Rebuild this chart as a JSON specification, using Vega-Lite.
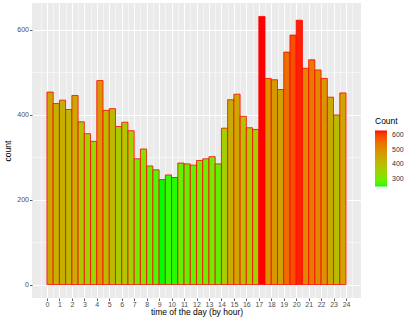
{
  "$schema": "https://vega.github.io/schema/vega-lite/v6.json",
  "width": 329,
  "height": 295,
  "autosize": {"type": "none"},
  "padding": {"left": 32, "top": 3, "right": 54, "bottom": 21},
  "background": "white",
  "config": {
    "view": {"fill": "#EBEBEB", "stroke": null},
    "font": "Liberation Sans"
  },
  "data": {
    "values": [
      {"start": 0, "end": 0.5, "count": 453},
      {"start": 0.5, "end": 1, "count": 426},
      {"start": 1, "end": 1.5, "count": 434},
      {"start": 1.5, "end": 2, "count": 412},
      {"start": 2, "end": 2.5, "count": 445},
      {"start": 2.5, "end": 3, "count": 383},
      {"start": 3, "end": 3.5, "count": 355},
      {"start": 3.5, "end": 4, "count": 337},
      {"start": 4, "end": 4.5, "count": 480},
      {"start": 4.5, "end": 5, "count": 410},
      {"start": 5, "end": 5.5, "count": 414},
      {"start": 5.5, "end": 6, "count": 372},
      {"start": 6, "end": 6.5, "count": 382},
      {"start": 6.5, "end": 7, "count": 362},
      {"start": 7, "end": 7.5, "count": 296},
      {"start": 7.5, "end": 8, "count": 319},
      {"start": 8, "end": 8.5, "count": 279},
      {"start": 8.5, "end": 9, "count": 270},
      {"start": 9, "end": 9.5, "count": 247},
      {"start": 9.5, "end": 10, "count": 258},
      {"start": 10, "end": 10.5, "count": 252},
      {"start": 10.5, "end": 11, "count": 286},
      {"start": 11, "end": 11.5, "count": 284},
      {"start": 11.5, "end": 12, "count": 281},
      {"start": 12, "end": 12.5, "count": 292},
      {"start": 12.5, "end": 13, "count": 296},
      {"start": 13, "end": 13.5, "count": 301},
      {"start": 13.5, "end": 14, "count": 284},
      {"start": 14, "end": 14.5, "count": 368},
      {"start": 14.5, "end": 15, "count": 435},
      {"start": 15, "end": 15.5, "count": 448},
      {"start": 15.5, "end": 16, "count": 396},
      {"start": 16, "end": 16.5, "count": 369},
      {"start": 16.5, "end": 17, "count": 365},
      {"start": 17, "end": 17.5, "count": 631},
      {"start": 17.5, "end": 18, "count": 485},
      {"start": 18, "end": 18.5, "count": 482},
      {"start": 18.5, "end": 19, "count": 459},
      {"start": 19, "end": 19.5, "count": 547},
      {"start": 19.5, "end": 20, "count": 587},
      {"start": 20, "end": 20.5, "count": 622},
      {"start": 20.5, "end": 21, "count": 509},
      {"start": 21, "end": 21.5, "count": 529},
      {"start": 21.5, "end": 22, "count": 505},
      {"start": 22, "end": 22.5, "count": 485},
      {"start": 22.5, "end": 23, "count": 441},
      {"start": 23, "end": 23.5, "count": 399},
      {"start": 23.5, "end": 24, "count": 451}
    ]
  },
  "layer": [
    {
      "mark": {"type": "rule", "opacity": 0},
      "encoding": {
        "x": {
          "field": "start", "type": "quantitative",
          "scale": {"domain": [-1.2, 25.2], "nice": false, "zero": false},
          "axis": {
            "orient": "bottom",
            "values": [-0.5, 0.5, 1.5, 2.5, 3.5, 4.5, 5.5, 6.5, 7.5, 8.5, 9.5, 10.5, 11.5, 12.5, 13.5, 14.5, 15.5, 16.5, 17.5, 18.5, 19.5, 20.5, 21.5, 22.5, 23.5, 24.5],
            "grid": true, "gridColor": "#FFFFFF", "gridWidth": 0.5,
            "labels": false, "ticks": false, "domain": false, "title": null
          }
        },
        "y": {
          "field": "count", "type": "quantitative",
          "scale": {"domain": [-31.55, 662.55], "nice": false, "zero": false},
          "axis": {
            "orient": "left",
            "values": [100, 300, 500],
            "grid": true, "gridColor": "#FFFFFF", "gridWidth": 0.5,
            "labels": false, "ticks": false, "domain": false, "title": null
          }
        }
      }
    },
    {
      "mark": {"type": "bar", "stroke": "#FF0000", "strokeWidth": 0.8},
      "encoding": {
        "x": {
          "field": "start", "type": "quantitative",
          "scale": {"domain": [-1.2, 25.2], "nice": false, "zero": false},
          "axis": {
            "orient": "bottom",
            "values": [0, 1, 2, 3, 4, 5, 6, 7, 8, 9, 10, 11, 12, 13, 14, 15, 16, 17, 18, 19, 20, 21, 22, 23, 24],
            "grid": true, "gridColor": "#FFFFFF", "gridWidth": 1,
            "domain": false,
            "tickColor": "#333333", "tickSize": 2.5, "tickWidth": 0.8,
            "labelFontSize": 7, "labelColor": "#4D4D4D", "labelPadding": 0,
            "title": "time of the day (by hour)",
            "titleFontSize": 8.5, "titleFontWeight": "normal", "titleColor": "#000000", "titlePadding": 0
          }
        },
        "x2": {"field": "end"},
        "y": {
          "field": "count", "type": "quantitative",
          "scale": {"domain": [-31.55, 662.55], "nice": false, "zero": false},
          "axis": {
            "orient": "left",
            "values": [0, 200, 400, 600],
            "grid": true, "gridColor": "#FFFFFF", "gridWidth": 1,
            "domain": false,
            "tickColor": "#333333", "tickSize": 2.5, "tickWidth": 0.8,
            "labelFontSize": 7, "labelColor": "#4D4D4D", "labelPadding": 1,
            "title": "count",
            "titleFontSize": 8.5, "titleFontWeight": "normal", "titleColor": "#000000", "titlePadding": 4
          }
        },
        "y2": {"datum": 0},
        "fill": {
          "field": "count", "type": "quantitative",
          "scale": {"domain": [247, 631], "nice": false, "zero": false, "range": ["#00FF00", "#FF0000"], "interpolate": "lab"},
          "legend": {
            "title": "Count",
            "orient": "none", "legendX": 343, "legendY": 114,
            "values": [300, 400, 500, 600],
            "gradientLength": 56, "gradientThickness": 12,
            "gradientStrokeWidth": 0,
            "titleFontSize": 8.5, "titleFontWeight": "normal", "titleColor": "#000000",
            "labelFontSize": 7, "labelColor": "#333333", "labelOffset": 5
          }
        }
      }
    }
  ],
  "resolve": {"axis": {"x": "independent", "y": "independent"}}
}
